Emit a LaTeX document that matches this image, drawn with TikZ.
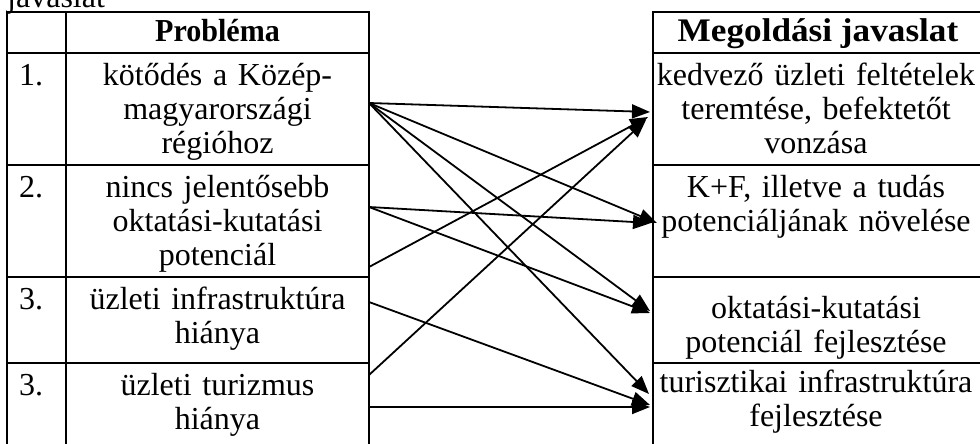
\documentclass[tikz,border=0pt]{standalone}
\usepackage{fontspec}
\usepackage{graphicx}
\setmainfont{Liberation Serif}
\usetikzlibrary{arrows.meta}
\begin{document}
\begin{tikzpicture}[x=1pt,y=-1pt,
  grid/.style={line width=2pt, line cap=rect},
  arr/.style={line width=1.8pt, -{Triangle[length=18pt,width=14pt]}},
  txt/.style={anchor=base, inner sep=0pt, align=center, font=\fontsize{32}{34}\selectfont},
  lcell/.style={txt, text width=300pt},
  rcell/.style={txt, text width=340pt},
  head/.style={anchor=base, inner sep=0pt, font=\fontsize{32}{34}\selectfont\bfseries},
  num/.style={anchor=base west, inner sep=0pt, font=\fontsize{32}{34}\selectfont}]
\useasboundingbox (0,0) rectangle (980,444);
% left table lines
\draw[grid] (7,12) -- (7,444) (66,12) -- (66,444) (369,12) -- (369,444);
\foreach \yy in {12,53,165,277,363} \draw[grid] (7,\yy) -- (369,\yy);
% right table lines
\draw[grid] (653,12) -- (653,444);
\foreach \yy in {12,53,165,277,363} \draw[grid] (653,\yy) -- (981,\yy);
% texts
\node[num] (jav) at (7,8) {javaslat};
\node[head] (hp) at (217.5,42) {\scalebox{0.94}[1]{Probléma}};
\node[head] (hm) at (818,42) {\scalebox{1.1}[1.03]{Megoldási javaslat}};
\node[num] (n1) at (19,85) {1.};
\node[num] (n2) at (19,197) {2.};
\node[num] (n3) at (19,309) {3.};
\node[num] (n4) at (19,395) {3.};
\node[lcell] (p1) at (217.5,85) {kötődés a Közép-\\magyarországi\\régióhoz};
\node[lcell] (p2) at (217.5,197) {nincs jelentősebb\\oktatási-kutatási\\potenciál};
\node[lcell] (p3) at (217.5,309) {üzleti infrastruktúra\\hiánya};
\node[lcell] (p4) at (217.5,395) {üzleti turizmus\\hiánya};
\node[rcell] (m1) at (816,85) {kedvező üzleti feltételek\\teremtése, befektetőt\\vonzása};
\node[rcell] (m2) at (816,197) {K+F, illetve a tudás\\potenciáljának növelése};
\node[rcell] (m3) at (816,318) {oktatási-kutatási\\potenciál fejlesztése};
\node[rcell] (m4) at (816,392) {turisztikai infrastruktúra\\fejlesztése};
% connector end points
\coordinate (sA) at (369,103);
\coordinate (sB) at (369,207);
\coordinate (sC) at (369,267);
\coordinate (sD) at (369,302);
\coordinate (sE) at (369,375);
\coordinate (sF) at (369,407);
\coordinate (t1a) at (650,112);
\coordinate (t1c) at (648,117);
\coordinate (t1e) at (646,120);
\coordinate (t2a) at (657,223);
\coordinate (t2b) at (651,223);
\coordinate (t3a) at (650,311);
\coordinate (t3b) at (650,313);
\coordinate (t4a) at (649,394);
\coordinate (t4d) at (650,405);
\coordinate (t4f) at (650,407);
% arrows
\draw[arr] (sA) -- (t1a);
\draw[arr] (sA) -- (t2a);
\draw[arr] (sA) -- (t3a);
\draw[arr] (sA) -- (t4a);
\draw[arr] (sB) -- (t2b);
\draw[arr] (sB) -- (t3b);
\draw[arr] (sC) -- (t1c);
\draw[arr] (sD) -- (t4d);
\draw[arr] (sE) -- (t1e);
\draw[arr] (sF) -- (t4f);
\end{tikzpicture}
\end{document}
